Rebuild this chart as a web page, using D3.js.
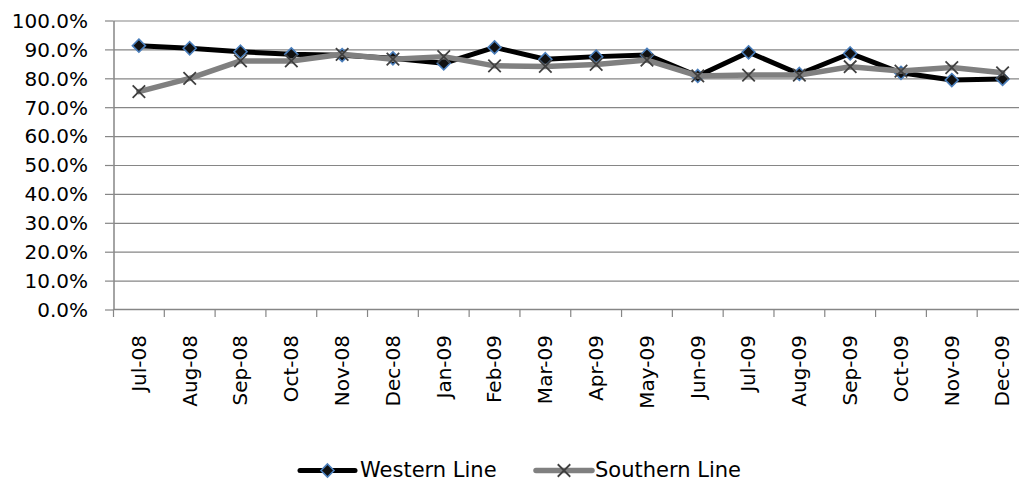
<!DOCTYPE html>
<html>
<head>
<meta charset="utf-8">
<script src="https://cdn.jsdelivr.net/npm/d3@7"></script>
<style>
  html, body { margin: 0; padding: 0; background: #fff; }
  svg { display: block; }
  text { font-family: "DejaVu Sans", sans-serif; fill: #000; }
</style>
</head>
<body>
<svg id="chart" width="1019" height="483"></svg>
<script>
// Monthly on-time performance, two lines
const months = ["Jul-08", "Aug-08", "Sep-08", "Oct-08", "Nov-08", "Dec-08",
                "Jan-09", "Feb-09", "Mar-09", "Apr-09", "May-09", "Jun-09",
                "Jul-09", "Aug-09", "Sep-09", "Oct-09", "Nov-09", "Dec-09"];
const western  = [91.3, 90.4, 89.2, 88.3, 88.0, 86.9, 85.2, 90.7, 86.6,
                  87.5, 88.1, 80.8, 89.0, 81.5, 88.6, 81.9, 79.4, 79.8];
const southern = [75.4, 80.0, 86.0, 86.0, 88.3, 86.6, 87.5, 84.3, 84.1,
                  84.8, 86.3, 80.8, 81.1, 81.1, 84.0, 82.5, 83.7, 81.9];
const yTicks = [0, 10, 20, 30, 40, 50, 60, 70, 80, 90, 100];
const seriesNames = ["Western Line", "Southern Line"];

const svg = d3.select("#chart");
const axisColor = "#868686";

const x = d3.scaleBand().domain(months).range([113.5, 1028]);
const y = d3.scaleLinear().domain([0, 100]).range([309.5, 20.5]);
const plotLeft = x.range()[0], plotRight = x.range()[1];

// horizontal gridlines
svg.append("g")
  .attr("transform", `translate(${plotLeft},0)`)
  .call(d3.axisLeft(y).tickValues(yTicks.filter(d => d > 0))
        .tickSize(-(plotRight - plotLeft)).tickFormat(""))
  .call(g => g.select(".domain").remove())
  .call(g => g.selectAll("line").attr("stroke", axisColor).attr("stroke-width", 1.2));

// y axis with percent labels
svg.append("g")
  .attr("transform", `translate(${plotLeft},0)`)
  .call(d3.axisLeft(y).tickValues(yTicks).tickSizeInner(8.5).tickSizeOuter(0)
        .tickPadding(17).tickFormat(d => d.toFixed(1) + "%"))
  .call(g => g.select(".domain").attr("stroke", axisColor).attr("stroke-width", 1.5))
  .call(g => g.selectAll("line").attr("stroke", axisColor).attr("stroke-width", 1.2))
  .call(g => g.selectAll("text").attr("font-size", 20)
        .attr("font-family", "DejaVu Sans").attr("fill", "#000").attr("dy", "0.34em"));

// x axis baseline and category boundary ticks
const xAxis = svg.append("g").attr("transform", `translate(0,${y(0)})`);
xAxis.append("line")
  .attr("x1", plotLeft).attr("x2", plotRight)
  .attr("stroke", axisColor).attr("stroke-width", 1.5);
xAxis.selectAll("line.tick")
  .data(months.map(m => x(m)).concat([plotRight]))
  .join("line").attr("class", "tick")
  .attr("x1", d => d).attr("x2", d => d)
  .attr("y1", 0).attr("y2", 7.5)
  .attr("stroke", axisColor).attr("stroke-width", 1.2);

// rotated month labels
svg.append("g").selectAll("text")
  .data(months).join("text")
  .attr("transform", d => `translate(${x(d) + x.bandwidth() / 2},335) rotate(-90)`)
  .attr("text-anchor", "end")
  .attr("dy", "0.34em")
  .attr("font-size", 20)
  .text(d => d);

// marker shapes
const diamond = { draw(ctx, size) { const r = Math.sqrt(size) / 2;
  ctx.moveTo(0, -r); ctx.lineTo(r, 0); ctx.lineTo(0, r); ctx.lineTo(-r, 0); ctx.closePath(); } };
const cross = { draw(ctx, size) { const r = Math.sqrt(size) / 2;
  ctx.moveTo(-r, -r); ctx.lineTo(r, r); ctx.moveTo(-r, r); ctx.lineTo(r, -r); } };

const styles = [
  { values: western, line: "#000000", width: 5, type: diamond, size: 169,
    fill: "#111111", mstroke: "#4A7EBB", mwidth: 1.6 },
  { values: southern, line: "#808080", width: 5.5, type: cross, size: 156,
    fill: "none", mstroke: "#404040", mwidth: 1.8 }
];

const line = d3.line()
  .x((d, i) => x(months[i]) + x.bandwidth() / 2)
  .y(d => y(d));

styles.forEach(s => {
  const g = svg.append("g");
  g.append("path")
    .attr("d", line(s.values))
    .attr("fill", "none").attr("stroke", s.line)
    .attr("stroke-width", s.width)
    .attr("stroke-linejoin", "round").attr("stroke-linecap", "round");
  g.selectAll("path.marker")
    .data(s.values).join("path").attr("class", "marker")
    .attr("transform", (d, i) => `translate(${x(months[i]) + x.bandwidth() / 2},${y(d)})`)
    .attr("d", d3.symbol(s.type, s.size))
    .attr("fill", s.fill).attr("stroke", s.mstroke).attr("stroke-width", s.mwidth);
});

// legend
const legendItems = [
  { name: seriesNames[0], x0: 300, x1: 355, tx: 360, s: styles[0] },
  { name: seriesNames[1], x0: 536, x1: 592, tx: 595, s: styles[1] }
];
const lg = svg.append("g");
legendItems.forEach(it => {
  const cy = 470.5;
  lg.append("line")
    .attr("x1", it.x0).attr("x2", it.x1).attr("y1", cy).attr("y2", cy)
    .attr("stroke", it.s.line).attr("stroke-width", it.s.width)
    .attr("stroke-linecap", "round");
  lg.append("path")
    .attr("transform", `translate(${(it.x0 + it.x1) / 2},${cy})`)
    .attr("d", d3.symbol(it.s.type, it.s.size))
    .attr("fill", it.s.fill).attr("stroke", it.s.mstroke).attr("stroke-width", it.s.mwidth);
  lg.append("text")
    .attr("x", it.tx).attr("y", 477)
    .attr("font-size", 21)
    .text(it.name);
});
</script>
</body>
</html>
